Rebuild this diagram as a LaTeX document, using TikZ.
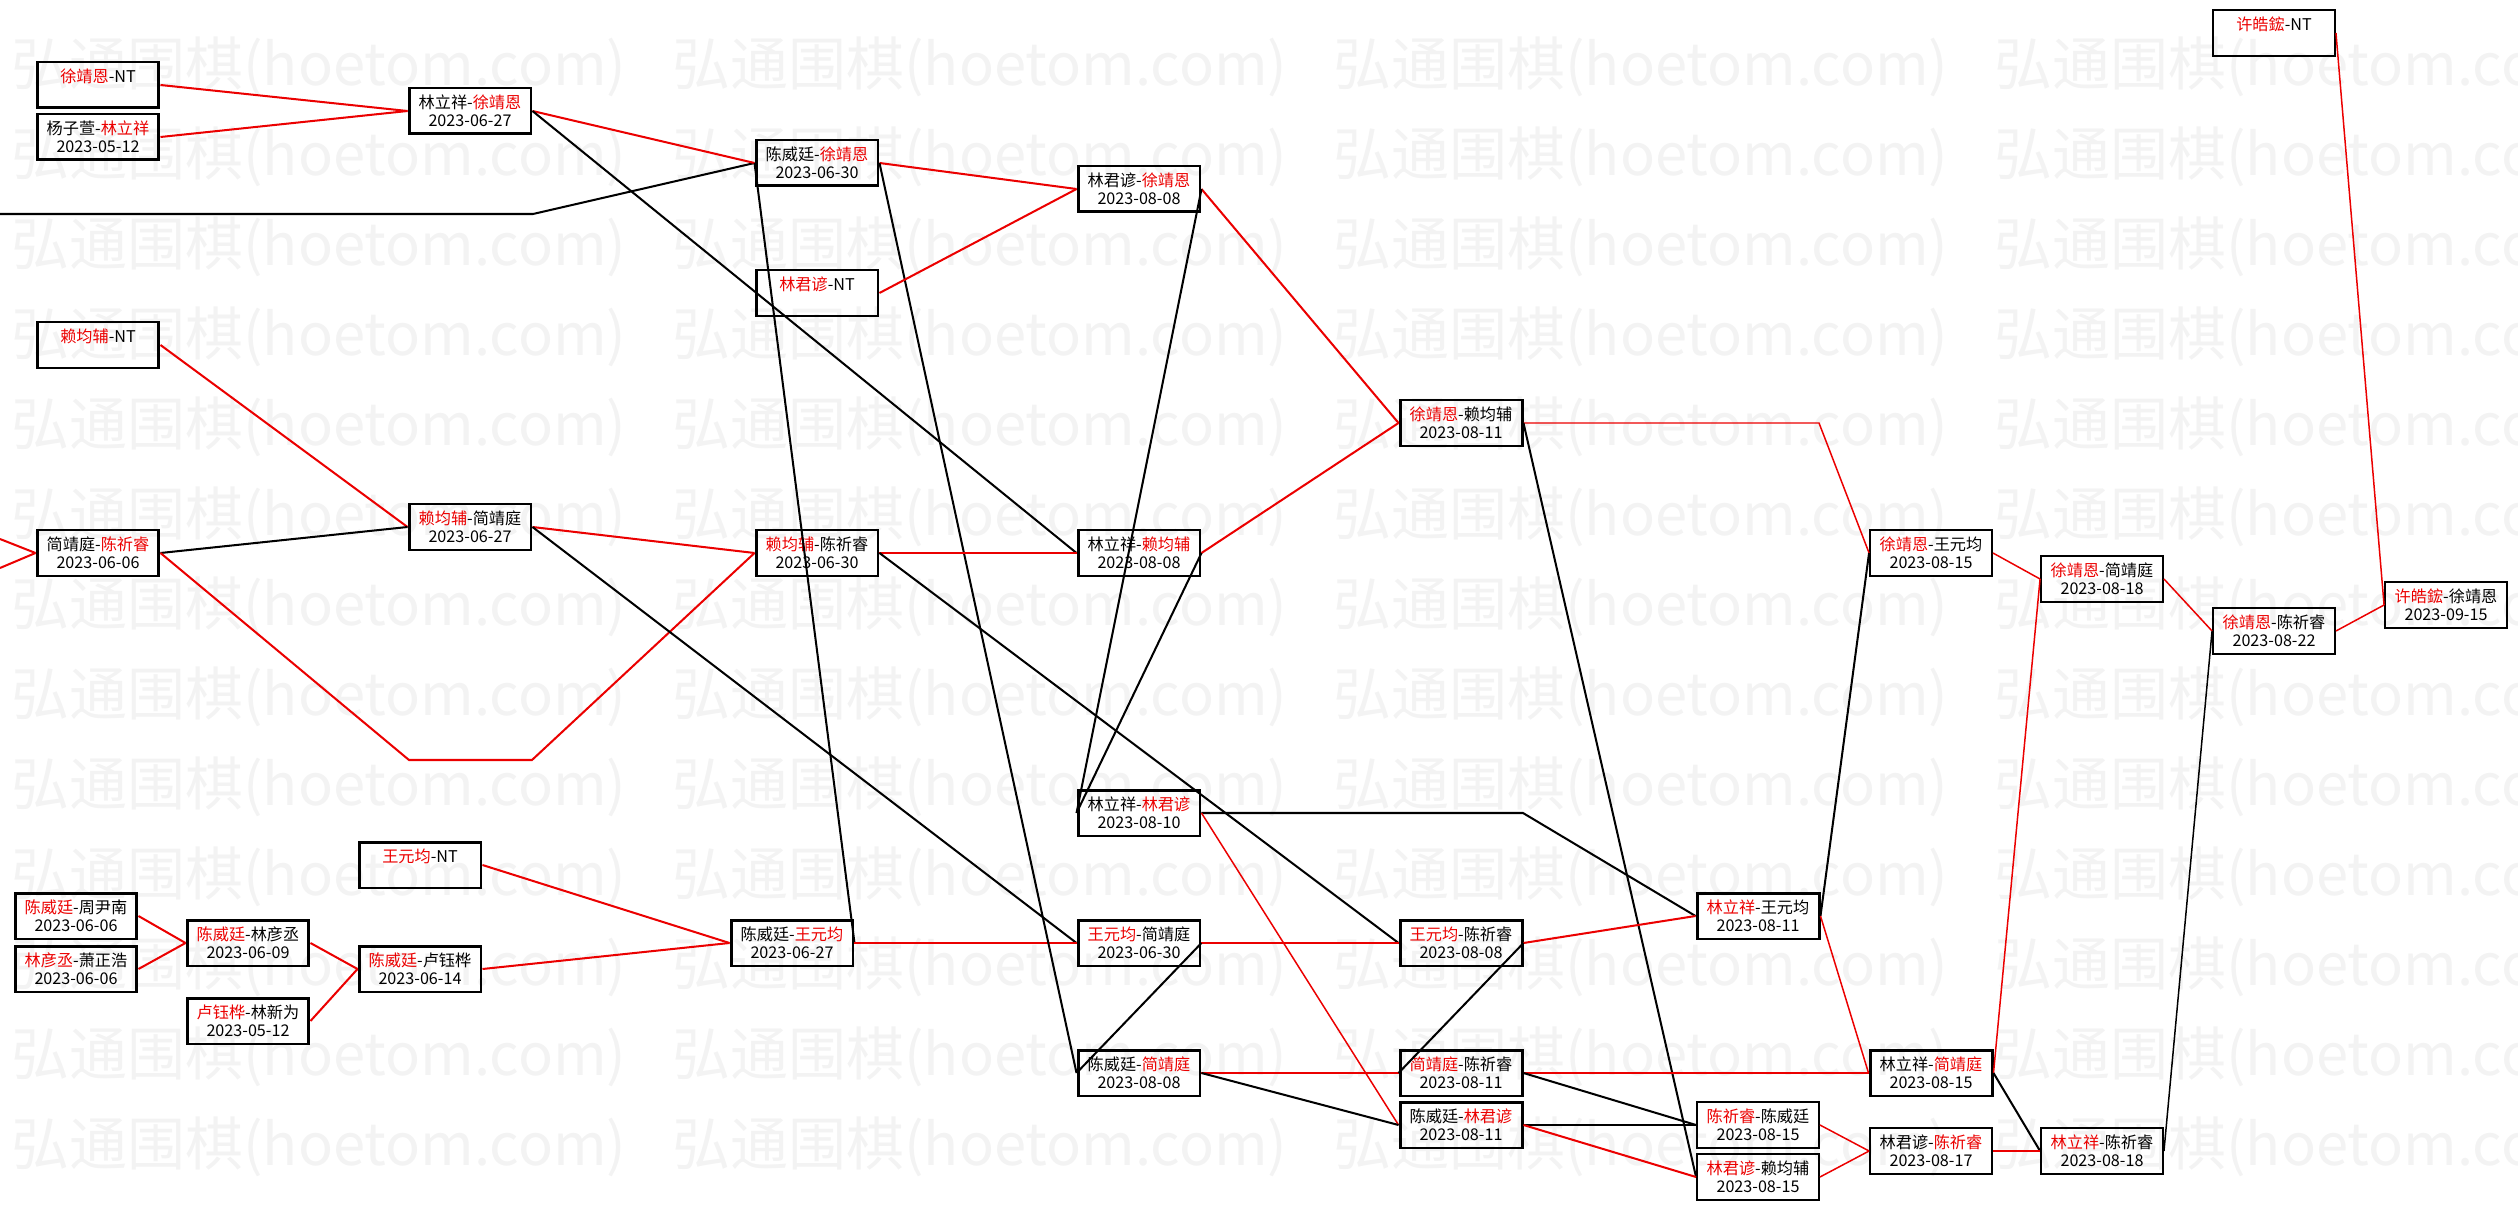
\documentclass[tikz,border=0pt]{standalone}
\usepackage{fontspec}
\setmainfont{Noto Sans CJK SC}
\definecolor{winred}{RGB}{235,0,0}
\definecolor{wmgray}{RGB}{243,243,243}
\newcommand{\wn}[1]{\textcolor{winred}{#1}}

\tikzset{
  game/.style={draw, line width=1.7pt, minimum width=2.44cm, minimum height=0.92cm,
    inner sep=0pt, align=center, font=\fontsize{9.2pt}{10.2pt}\selectfont},
  gameslim/.style={game, line width=1.1pt},
  win/.style={draw=winred, line width=1.15pt},
  lose/.style={draw=black, line width=1.15pt},
  slim/.style={line width=0.85pt},
  wmtext/.style={anchor=west, inner sep=0pt, text=wmgray, font=\fontsize{33pt}{33pt}\selectfont}
}

\begin{document}
\begin{tikzpicture}[x=0.02cm, y=-0.02cm]
    \useasboundingbox (0,0) rectangle (2518,1209);
    % watermark
    \foreach \r in {0,...,12}
      \foreach \c in {0,...,3}
        \node[wmtext] (wm-\r-\c) at ({11+661*\c},{67+90*\r}) {弘通围棋(hoetom.com)};

    % first rounds
    \node[game] (xunt)      at (98,85)   {\wn{徐靖恩}-NT\\\phantom{2023}};
    \node[game] (yanglin)   at (98,137)  {杨子萱-\wn{林立祥}\\2023-05-12};
    \node[game] (lainnt)    at (98,345)  {\wn{赖均辅}-NT\\\phantom{2023}};
    \node[game] (jianchenA) at (98,553)  {简靖庭-\wn{陈祈睿}\\2023-06-06};
    \node[game] (chenzhou)  at (76,916)  {\wn{陈威廷}-周尹南\\2023-06-06};
    \node[game] (linxiao)   at (76,969)  {\wn{林彦丞}-萧正浩\\2023-06-06};
    \node[game] (chenlinA)  at (248,943) {\wn{陈威廷}-林彦丞\\2023-06-09};
    \node[game] (lulin)     at (248,1021) {\wn{卢钰桦}-林新为\\2023-05-12};
    \node[game] (wangnt)    at (420,865) {\wn{王元均}-NT\\\phantom{2023}};
    \node[game] (chenlu)    at (420,969) {\wn{陈威廷}-卢钰桦\\2023-06-14};
    \node[game] (linxuA)    at (470,111) {林立祥-\wn{徐靖恩}\\2023-06-27};
    \node[game] (laijian)   at (470,527) {\wn{赖均辅}-简靖庭\\2023-06-27};

    % middle rounds
    \node[game] (chenxu)    at (817,163)  {陈威廷-\wn{徐靖恩}\\2023-06-30};
    \node[game] (linnt)     at (817,293)  {\wn{林君谚}-NT\\\phantom{2023}};
    \node[game] (laichen)   at (817,553)  {\wn{赖均辅}-陈祈睿\\2023-06-30};
    \node[game] (chenwang)  at (792,943)  {陈威廷-\wn{王元均}\\2023-06-27};
    \node[game] (linxuB)    at (1139,189) {林君谚-\wn{徐靖恩}\\2023-08-08};
    \node[game] (linlai)    at (1139,553) {林立祥-\wn{赖均辅}\\2023-08-08};
    \node[game] (linlin)    at (1139,813) {林立祥-\wn{林君谚}\\2023-08-10};
    \node[game] (wangjian)  at (1139,943) {\wn{王元均}-简靖庭\\2023-06-30};
    \node[game] (chenjian)  at (1139,1073) {陈威廷-\wn{简靖庭}\\2023-08-08};
    \node[game] (xulai)     at (1461,423) {\wn{徐靖恩}-赖均辅\\2023-08-11};
    \node[game] (wangchen)  at (1461,943) {\wn{王元均}-陈祈睿\\2023-08-08};
    \node[game] (jianchenB) at (1461,1073) {\wn{简靖庭}-陈祈睿\\2023-08-11};
    \node[game] (chenlinB)  at (1461,1125) {陈威廷-\wn{林君谚}\\2023-08-11};

    % last rounds
    \node[game]     (linwang)  at (1758,916)  {\wn{林立祥}-王元均\\2023-08-11};
    \node[gameslim] (chenchen) at (1758,1125) {\wn{陈祈睿}-陈威廷\\2023-08-15};
    \node[gameslim] (linlaiB)  at (1758,1177) {\wn{林君谚}-赖均辅\\2023-08-15};
    \node[gameslim] (xuwang)   at (1931,553)  {\wn{徐靖恩}-王元均\\2023-08-15};
    \node[game]     (linjian)  at (1931,1073) {林立祥-\wn{简靖庭}\\2023-08-15};
    \node[gameslim] (linchenA) at (1931,1151) {林君谚-\wn{陈祈睿}\\2023-08-17};
    \node[gameslim] (xujian)   at (2102,579)  {\wn{徐靖恩}-简靖庭\\2023-08-18};
    \node[gameslim] (linchenB) at (2102,1151) {\wn{林立祥}-陈祈睿\\2023-08-18};
    \node[gameslim] (xunt2)    at (2274,33)   {\wn{许皓鋐}-NT\\\phantom{2023}};
    \node[gameslim] (xuchen)   at (2274,631)  {\wn{徐靖恩}-陈祈睿\\2023-08-22};
    \node[gameslim] (xuxu)     at (2446,605)  {\wn{许皓鋐}-徐靖恩\\2023-09-15};

    % free ends and bends
    \coordinate (offtop)  at (0,214);
    \coordinate (bendtop) at (533,214);
    \coordinate (offredA) at (0,539);
    \coordinate (offredB) at (0,568);
    \coordinate (dipA)    at (409,760);
    \coordinate (dipB)    at (532,760);
    \coordinate (bendlin) at (1523,813);
    \coordinate (bendxu)  at (1819,423);

    % connectors
    \draw[lose] (offtop) -- (bendtop) -- (chenxu.west);
    \draw[win] (offredA) -- (jianchenA.west);
    \draw[win] (offredB) -- (jianchenA.west);
    \draw[win] (xunt.east) -- (linxuA.west);
    \draw[win] (yanglin.east) -- (linxuA.west);
    \draw[win] (linxuA.east) -- (chenxu.west);
    \draw[lose] (linxuA.east) -- (linlai.west);
    \draw[win] (lainnt.east) -- (laijian.west);
    \draw[lose] (jianchenA.east) -- (laijian.west);
    \draw[win] (jianchenA.east) -- (dipA) -- (dipB) -- (laichen.west);
    \draw[win] (laijian.east) -- (laichen.west);
    \draw[lose] (laijian.east) -- (wangjian.west);
    \draw[win] (chenzhou.east) -- (chenlinA.west);
    \draw[win] (linxiao.east) -- (chenlinA.west);
    \draw[win] (chenlinA.east) -- (chenlu.west);
    \draw[win] (lulin.east) -- (chenlu.west);
    \draw[win] (wangnt.east) -- (chenwang.west);
    \draw[win] (chenlu.east) -- (chenwang.west);
    \draw[lose] (chenwang.east) -- (chenxu.west);
    \draw[win] (chenwang.east) -- (wangjian.west);
    \draw[win] (chenxu.east) -- (linxuB.west);
    \draw[lose] (chenxu.east) -- (chenjian.west);
    \draw[win] (linnt.east) -- (linxuB.west);
    \draw[win] (laichen.east) -- (linlai.west);
    \draw[lose] (laichen.east) -- (wangchen.west);
    \draw[win] (linxuB.east) -- (xulai.west);
    \draw[lose] (linxuB.east) -- (linlin.west);
    \draw[win] (linlai.east) -- (xulai.west);
    \draw[lose] (linlai.east) -- (linlin.west);
    \draw[lose] (linlin.east) -- (bendlin) -- (linwang.west);
    \draw[win,slim] (linlin.east) -- (chenlinB.west);
    \draw[win] (wangjian.east) -- (wangchen.west);
    \draw[lose] (wangjian.east) -- (chenjian.west);
    \draw[win] (chenjian.east) -- (jianchenB.west);
    \draw[lose] (chenjian.east) -- (chenlinB.west);
    \draw[win,slim] (xulai.east) -- (bendxu) -- (xuwang.west);
    \draw[lose] (xulai.east) -- (linlaiB.west);
    \draw[win] (wangchen.east) -- (linwang.west);
    \draw[lose] (wangchen.east) -- (jianchenB.west);
    \draw[win] (jianchenB.east) -- (linjian.west);
    \draw[lose] (jianchenB.east) -- (chenchen.west);
    \draw[lose] (chenlinB.east) -- (chenchen.west);
    \draw[win] (chenlinB.east) -- (linlaiB.west);
    \draw[lose] (linwang.east) -- (xuwang.west);
    \draw[win,slim] (linwang.east) -- (linjian.west);
    \draw[win,slim] (chenchen.east) -- (linchenA.west);
    \draw[win,slim] (linlaiB.east) -- (linchenA.west);
    \draw[win,slim] (xuwang.east) -- (xujian.west);
    \draw[win,slim] (linjian.east) -- (xujian.west);
    \draw[lose] (linjian.east) -- (linchenB.west);
    \draw[win,slim] (linchenA.east) -- (linchenB.west);
    \draw[win,slim] (xujian.east) -- (xuchen.west);
    \draw[lose,slim] (linchenB.east) -- (xuchen.west);
    \draw[win,slim] (xuchen.east) -- (xuxu.west);
    \draw[win,slim] (xunt2.east) -- (xuxu.west);
\end{tikzpicture}
\end{document}
